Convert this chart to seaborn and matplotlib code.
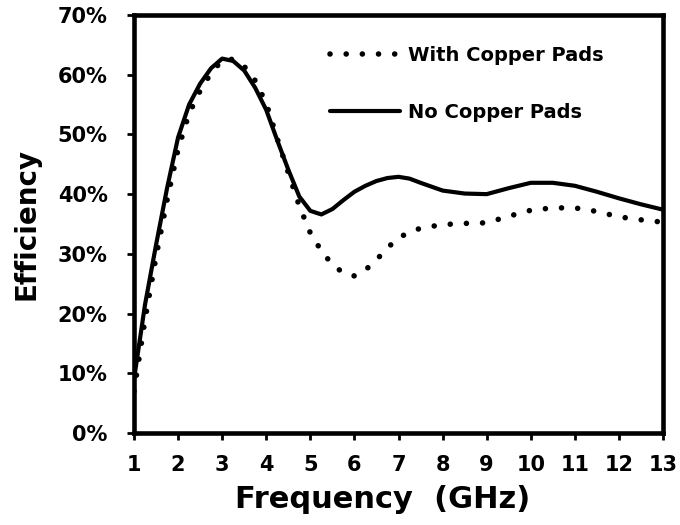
import matplotlib
matplotlib.use("Agg")
import matplotlib.pyplot as plt
from matplotlib.ticker import PercentFormatter
import seaborn as sns
import pandas as pd

# ---- data ----
freq = [1.0, 1.25, 1.5, 1.75, 2.0, 2.25, 2.5, 2.75, 3.0, 3.25, 3.5, 3.75,
        4.0, 4.25, 4.5, 4.75, 5.0, 5.25, 5.5, 5.75, 6.0, 6.25, 6.5, 6.75,
        7.0, 7.25, 7.5, 8.0, 8.5, 9.0, 9.5, 10.0, 10.5, 11.0, 11.5, 12.0,
        12.5, 13.0]
with_pads = [7.0, 19.0, 29.5, 39.0, 47.5, 53.5, 57.3, 60.3, 62.4, 62.6, 61.4, 59.0,
             55.2, 49.3, 43.6, 38.0, 33.5, 30.5, 28.2, 26.8, 26.3, 27.3, 29.0, 31.0,
             32.7, 33.6, 34.3, 34.9, 35.1, 35.2, 36.3, 37.3, 37.7, 37.7, 37.1, 36.2,
             35.7, 35.3]
no_pads = [9.0, 21.5, 31.5, 41.0, 49.5, 55.0, 58.5, 61.1, 62.7, 62.3, 60.7, 57.8,
           54.1, 49.0, 44.1, 39.6, 37.2, 36.6, 37.5, 39.0, 40.4, 41.4, 42.2, 42.7,
           42.9, 42.6, 41.9, 40.6, 40.1, 40.0, 41.0, 41.9, 41.9, 41.4, 40.4, 39.3,
           38.3, 37.4]
labels = ["With Copper Pads", "No Copper Pads"]
x_ticks = list(range(1, 14))
y_ticks = [0, 10, 20, 30, 40, 50, 60, 70]

sns.set_theme(style="white")
plt.rcParams["font.family"] = ["DejaVu Sans"]
plt.rcParams["font.weight"] = "bold"

fig = plt.figure(figsize=(6.8, 5.25), dpi=100)
ax = fig.add_axes([134 / 680, 1 - 433 / 525, (663 - 134) / 680, (433 - 15) / 525])

df_w = pd.DataFrame({"freq": freq, "eff": with_pads})
df_n = pd.DataFrame({"freq": freq, "eff": no_pads})

sns.lineplot(data=df_w, x="freq", y="eff", ax=ax, color="black", label=labels[0])
line_w = ax.lines[-1]
sns.lineplot(data=df_n, x="freq", y="eff", ax=ax, color="black", label=labels[1])
line_n = ax.lines[-1]

line_w.set_linewidth(4.0)
line_w.set_linestyle((0, (0.01, 2.9)))
line_w.set_dash_capstyle("round")
line_n.set_linewidth(3.0)
line_n.set_linestyle("-")
line_n.set_solid_capstyle("round")

ax.set_xlim(1, 13)
ax.set_ylim(0, 70)
ax.set_xticks(x_ticks)
ax.set_yticks(y_ticks)
ax.yaxis.set_major_formatter(PercentFormatter(xmax=100, decimals=0))

for s in ax.spines.values():
    s.set_visible(True)
    s.set_color("black")
    s.set_linewidth(3.3)

ax.tick_params(axis="both", which="major", direction="out", color="black",
               length=5, width=2, labelsize=15, labelcolor="black",
               bottom=True, left=True, top=False, right=False)
ax.tick_params(axis="x", pad=11)
ax.tick_params(axis="y", pad=14)
for lab in ax.get_xticklabels() + ax.get_yticklabels():
    lab.set_fontweight("bold")

ax.set_xlabel("Frequency  (GHz)", fontsize=22, fontweight="bold", color="black")
ax.set_ylabel("Efficiency", fontsize=20, fontweight="bold", color="black")
ax.xaxis.set_label_coords(0.47, -0.125)
ax.yaxis.set_label_coords(-0.176, 0.5)

leg = ax.legend(handles=[line_w, line_n], labels=labels, loc="upper left",
                bbox_to_anchor=(0.338, 0.968), frameon=False,
                prop={"size": 14, "weight": "bold"},
                handlelength=3.6, handletextpad=0.4, labelspacing=1.95)
for t in leg.get_texts():
    t.set_color("black")

fig.savefig("out.png", dpi=100, facecolor="white")
